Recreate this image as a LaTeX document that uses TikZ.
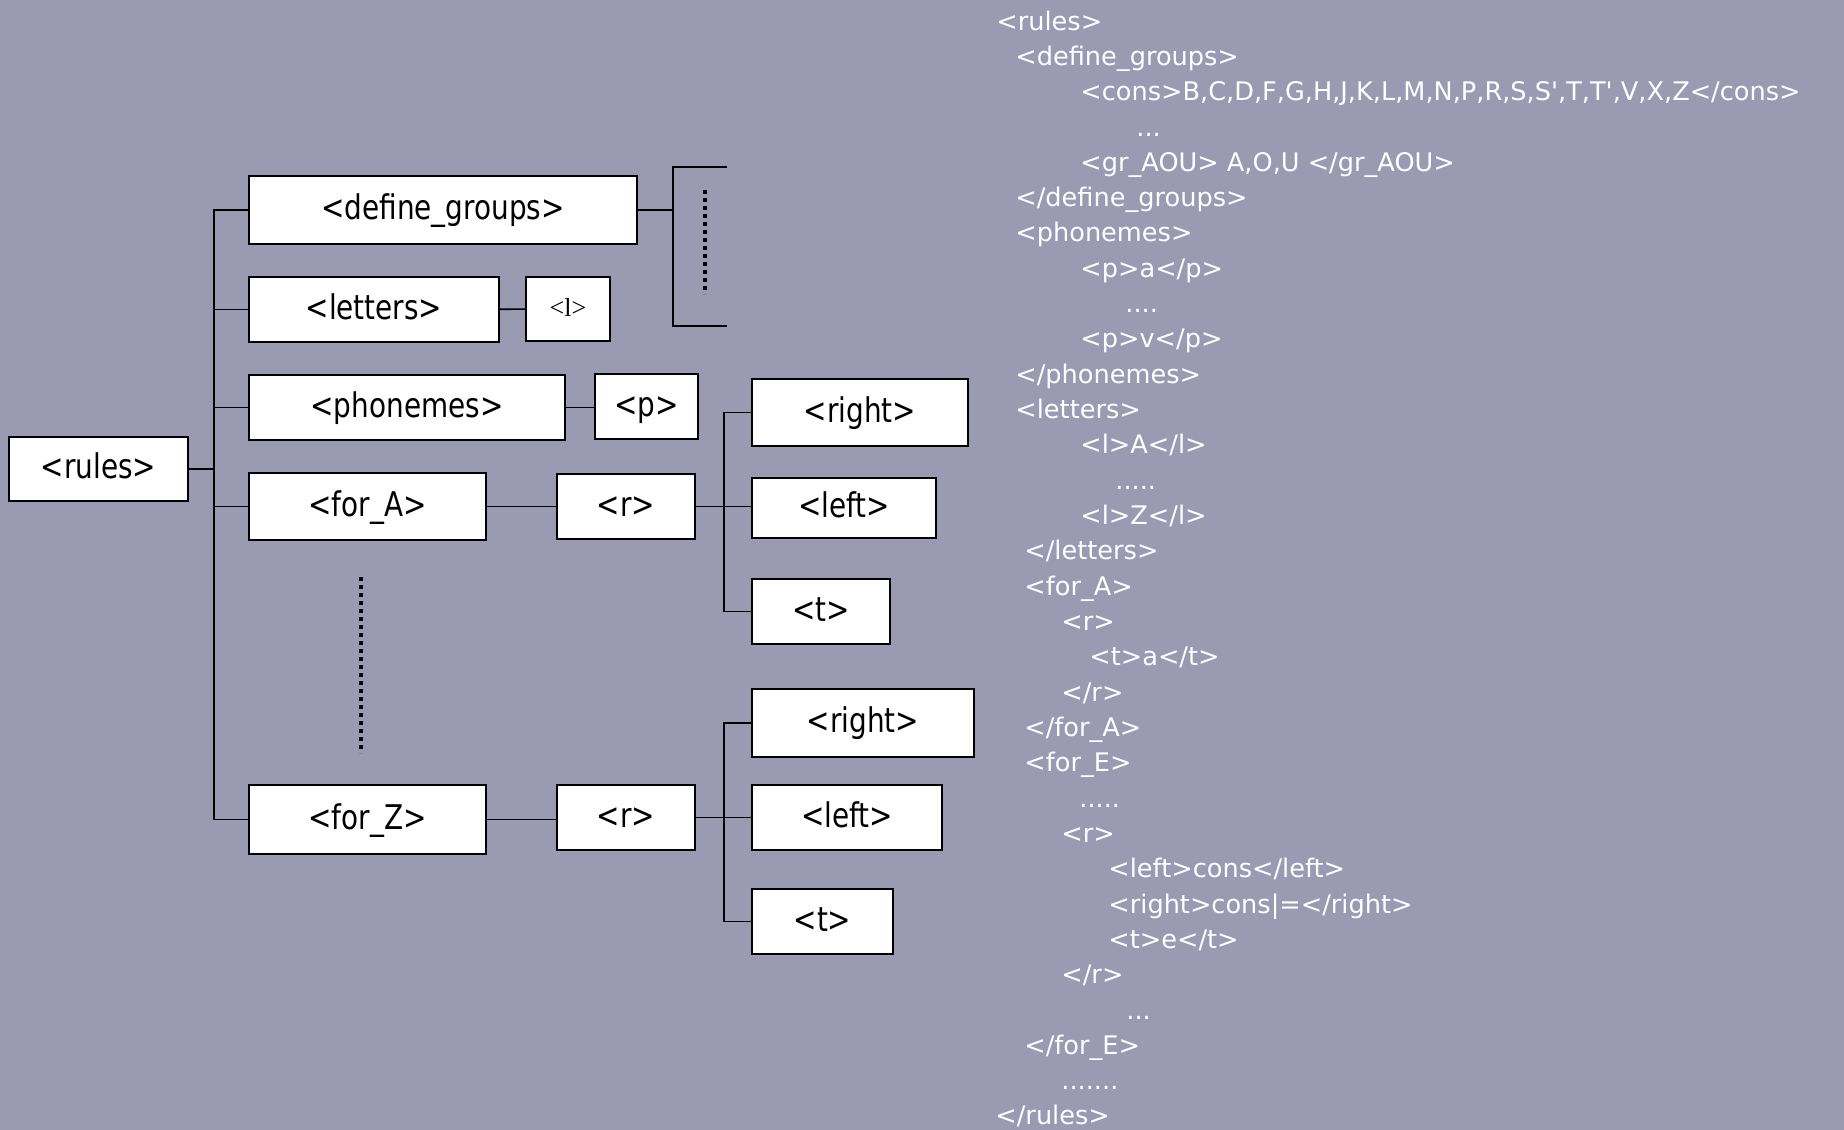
\documentclass[tikz,border=0pt]{standalone}
\usepackage{fontspec}
\newfontfamily\boxfont[FakeStretch=0.82]{DejaVu Sans}
\newfontfamily\codefont{DejaVu Sans}
\newfontfamily\serfont{Liberation Serif}
\definecolor{bgcol}{RGB}{154,154,178}
\tikzset{
  box/.style={draw=black, fill=white, line width=1pt, inner sep=0pt,
    text height=1.06em, text depth=0.1em,
    font=\boxfont\fontsize{17pt}{20pt}\selectfont},
  sbox/.style={box, text height=0.9em, text depth=0.2em,
    font=\serfont\fontsize{13pt}{15pt}\selectfont},
  conn/.style={line width=0.85pt, black},
  dotline/.style={line width=2pt, dash pattern=on 2pt off 2pt, black},
  code/.style={anchor=base west, inner sep=0pt, text=white,
    font=\codefont\fontsize{12.8pt}{15pt}\selectfont}
}
\begin{document}
\begin{tikzpicture}[x=0.5pt,y=-0.5pt]
\fill[bgcol] (0,0) rectangle (1844,1130);
\useasboundingbox (0,0) rectangle (1844,1130);
% tree boxes
\node[box, minimum width=89.5pt, minimum height=32pt] (rules) at (98.5,469) {<rules>};
\node[box, minimum width=194pt, minimum height=34pt] (defg) at (443,210) {<define\_groups>};
\node[box, minimum width=125pt, minimum height=32.5pt] (letters) at (374,309.5) {<letters>};
\node[sbox, minimum width=42pt, minimum height=32pt] (lbox) at (568,309) {<l>};
\node[box, minimum width=158pt, minimum height=32.5pt] (phon) at (407,407.5) {<phonemes>};
\node[box, minimum width=51.5pt, minimum height=32.5pt] (pbox) at (646.5,406.5) {<p>};
\node[box, minimum width=118.5pt, minimum height=33.5pt] (forA) at (367.5,506.5) {<for\_A>};
\node[box, minimum width=69pt, minimum height=32.5pt] (rA) at (626,506.5) {<r>};
\node[box, minimum width=108pt, minimum height=33.5pt] (rightA) at (860,412.5) {<right>};
\node[box, minimum width=92pt, minimum height=30pt] (leftA) at (844,508) {<left>};
\node[box, minimum width=69pt, minimum height=32.5pt] (tA) at (821,611.5) {<t>};
\node[box, minimum width=118.5pt, minimum height=34.5pt] (forZ) at (367.5,819.5) {<for\_Z>};
\node[box, minimum width=69pt, minimum height=32.5pt] (rZ) at (626,817.5) {<r>};
\node[box, minimum width=111pt, minimum height=34pt] (rightZ) at (863,723) {<right>};
\node[box, minimum width=95pt, minimum height=32.5pt] (leftZ) at (847,817.5) {<left>};
\node[box, minimum width=70.5pt, minimum height=32.5pt] (tZ) at (822.5,921.5) {<t>};
% helper coordinates
\coordinate (trk) at (214,0);
\coordinate (jA) at (724,0);
\coordinate (jZ) at (724,0);
\coordinate (brk) at (673,0);
\coordinate (bt) at (727,167);
\coordinate (bb) at (727,326);
\coordinate (d1a) at (705,190);
\coordinate (d1b) at (705,294);
\coordinate (d2a) at (361,577);
\coordinate (d2b) at (361,753);
% trunk
\draw[conn] (defg.west) -| (trk |- forZ.west) -- (forZ.west);
\draw[conn] (rules.east) -- (rules.east -| trk);
\draw[conn] (letters.west) -- (letters.west -| trk);
\draw[conn] (phon.west) -- (phon.west -| trk);
\draw[conn] (forA.west) -- (forA.west -| trk);
% side links
\draw[conn] (letters) -- (lbox);
\draw[conn] (phon.east) -- (phon.east -| pbox.west);
\draw[conn] (forA) -- (rA);
\draw[conn] (forZ.east) -- (forZ.east -| rZ.west);
% bracket
\draw[conn] (defg.east) -- (defg.east -| brk);
\draw[conn] (bt) -| (brk |- bb) -- (bb);
\draw[dotline] (d1a) -- (d1b);
\draw[dotline] (d2a) -- (d2b);
% junction A
\draw[conn] (rightA.west) -| (jA |- tA.west) -- (tA.west);
\draw[conn] (rA.east) -- (rA.east -| leftA.west);
% junction Z
\draw[conn] (rightZ.west) -| (jZ |- tZ.west) -- (tZ.west);
\draw[conn] (rZ.east) -- (rZ.east -| leftZ.west);
% code listing
\node[code] (c0) at (996,30) {<rules>};
\node[code] (c1) at (1015,65.3) {<define\_groups>};
\node[code] (c2) at (1080,100.6) {<cons>B,C,D,F,G,H,J,K,L,M,N,P,R,S,S\textquotesingle,T,T\textquotesingle,V,X,Z</cons>};
\node[code] (c3) at (1136,136) {...};
\node[code] (c4) at (1080,171.3) {<gr\_AOU> A,O,U </gr\_AOU>};
\node[code] (c5) at (1015,206.6) {</define\_groups>};
\node[code] (c6) at (1015,241.9) {<phonemes>};
\node[code] (c7) at (1080,277.2) {<p>a</p>};
\node[code] (c8) at (1125,312.6) {....};
\node[code] (c9) at (1080,347.9) {<p>v</p>};
\node[code] (c10) at (1015,383.2) {</phonemes>};
\node[code] (c11) at (1015,418.5) {<letters>};
\node[code] (c12) at (1080,453.8) {<l>A</l>};
\node[code] (c13) at (1115,489.2) {.....};
\node[code] (c14) at (1080,524.5) {<l>Z</l>};
\node[code] (c15) at (1024,559.8) {</letters>};
\node[code] (c16) at (1024,595.1) {<for\_A>};
\node[code] (c17) at (1061,630.4) {<r>};
\node[code] (c18) at (1089,665.8) {<t>a</t>};
\node[code] (c19) at (1061,701.1) {</r>};
\node[code] (c20) at (1024,736.4) {</for\_A>};
\node[code] (c21) at (1024,771.7) {<for\_E>};
\node[code] (c22) at (1079,807) {.....};
\node[code] (c23) at (1061,842.4) {<r>};
\node[code] (c24) at (1108,877.7) {<left>cons</left>};
\node[code] (c25) at (1108,913) {<right>cons|=</right>};
\node[code] (c26) at (1108,948.3) {<t>e</t>};
\node[code] (c27) at (1061,983.6) {</r>};
\node[code] (c28) at (1126,1019) {...};
\node[code] (c29) at (1024,1054.3) {</for\_E>};
\node[code] (c30) at (1061,1089.6) {.......};
\node[code] (c31) at (995,1124.9) {</rules>};
\end{tikzpicture}
\end{document}
